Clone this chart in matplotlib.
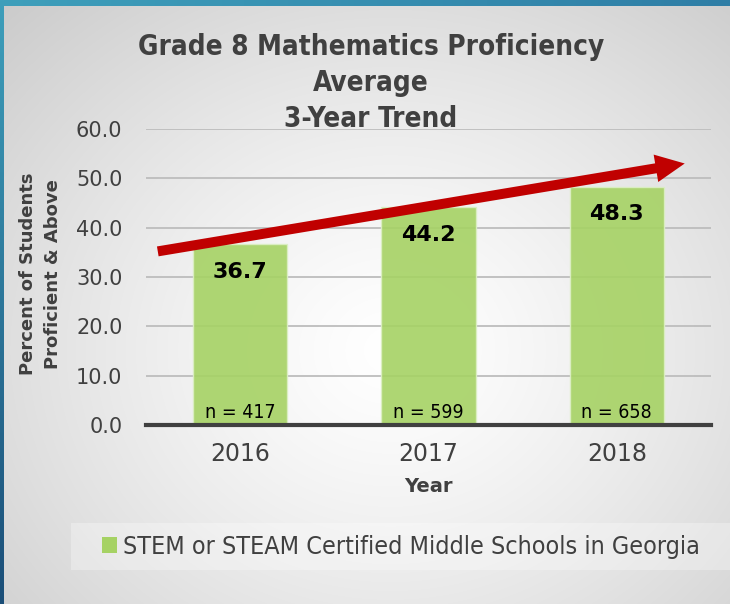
#!/usr/bin/env python3
import matplotlib
matplotlib.use('Agg')
import matplotlib.pyplot as plt
import numpy as np
from matplotlib.patches import FancyArrowPatch, Rectangle, Patch

years = ['2016', '2017', '2018']
proficiency = [36.7, 44.2, 48.3]
n_schools = [417, 599, 658]
series_name = 'STEM or STEAM Certified Middle Schools in Georgia'

W, H = 730, 604
GREEN = '#a6d264'
DARK = '#404040'
COND = dict(fontstretch='condensed')


def background(fig):
    bg = fig.add_axes([0, 0, 1, 1], zorder=-10)
    yy, xx = np.mgrid[0:H, 0:W]
    d = np.hypot((xx - 390) / 480, (yy - 350) / 420)
    v = 1.0 - 0.17 * np.clip(d, 0, 1.2) ** 1.3
    img = np.dstack([v, v, v])
    # teal frame: top band and left band
    top = np.array([0x3e, 0x9f, 0xbb]) / 255
    top_r = np.array([0x2f, 0x7e, 0xa6]) / 255
    t = (np.arange(W) / W)[:, None]
    img[:6, :, :] = (top * (1 - t) + top_r * t)[None, :, :]
    bot = np.array([0x1b, 0x4e, 0x78]) / 255
    s = (np.arange(H) / H)[:, None]
    img[:, :4, :] = (top * (1 - s) + bot * s)[:, None, :]
    bg.imshow(img, aspect='auto', extent=(0, 1, 0, 1))
    bg.set_axis_off()


def main():
    fig = plt.figure(figsize=(W / 100, H / 100), dpi=100)
    background(fig)

    ax = fig.add_axes([146 / W, 1 - 425 / H, 565 / W, 296 / H])
    ax.set_facecolor('none')
    x = np.arange(len(years))
    ax.bar(x, proficiency, width=0.5, color=GREEN, alpha=0.9,
           edgecolor='#dcefc4', linewidth=1, zorder=2)
    ax.set_xlim(-0.5, 2.5)
    ax.set_ylim(0, 60)
    ax.set_yticks(np.arange(0, 61, 10))
    ax.set_yticklabels([f'{v:.1f}' for v in np.arange(0, 61, 10)])
    ax.set_xticks(x)
    ax.set_xticklabels(years)
    ax.grid(axis='y', color='#bdbdbd', linewidth=1.3, zorder=1)
    ax.set_axisbelow(True)
    for side in ('top', 'right', 'left'):
        ax.spines[side].set_visible(False)
    ax.spines['bottom'].set_color(DARK)
    ax.spines['bottom'].set_linewidth(3)
    ax.spines['bottom'].set_zorder(5)
    ax.tick_params(length=0, colors=DARK)
    ax.tick_params(axis='y', labelsize=15, pad=17)
    ax.tick_params(axis='x', labelsize=17, pad=12)

    for i, v in enumerate(proficiency):
        ax.annotate(f'{v:.1f}', (i, v), xytext=(0, -20), textcoords='offset points',
                    ha='center', va='center', fontsize=16, fontweight='bold',
                    color='black', zorder=4)
    for i, n in enumerate(n_schools):
        ax.annotate(f'n = {n}', (i, 0), xytext=(0, 9), textcoords='offset points',
                    ha='center', va='center', fontsize=14, color='black', zorder=4, **COND)

    arrow = FancyArrowPatch((-0.452, 35.1), (2.375, 53.1),
                            arrowstyle='simple,head_length=1.05,head_width=1.0,tail_width=0.36',
                            mutation_scale=20, color='#c00000', lw=0, zorder=3,
                            clip_on=False)
    ax.add_patch(arrow)

    fig.text(371 / W, 1 - 83 / H,
             'Grade 8 Mathematics Proficiency\nAverage\n3-Year Trend',
             ha='center', va='center', fontsize=20, fontweight='bold',
             color=DARK, linespacing=1.35, **COND)
    fig.text(41 / W, 1 - 274 / H, 'Percent of Students\nProficient & Above',
             rotation=90, ha='center', va='center', fontsize=13, fontweight='bold',
             color=DARK, linespacing=1.5)
    fig.text(428 / W, 1 - 487 / H, 'Year', ha='center', va='center',
             fontsize=14, fontweight='bold', color=DARK)

    fig.add_artist(Rectangle((71 / W, 1 - 570 / H), 1, 47 / H, transform=fig.transFigure,
                             facecolor='white', alpha=0.3, edgecolor='none'))
    leg = fig.legend([Patch(facecolor=GREEN)], [series_name],
                     loc='center left', bbox_to_anchor=(102 / W, 1 - 547 / H),
                     frameon=False, borderaxespad=0, borderpad=0, fontsize=18,
                     handlelength=0.6, handleheight=0.6, handletextpad=0.25)
    for t in leg.get_texts():
        t.set_color(DARK)
        t.set_fontstretch('condensed')

    fig.savefig('out.png', dpi=100)


if __name__ == '__main__':
    main()
